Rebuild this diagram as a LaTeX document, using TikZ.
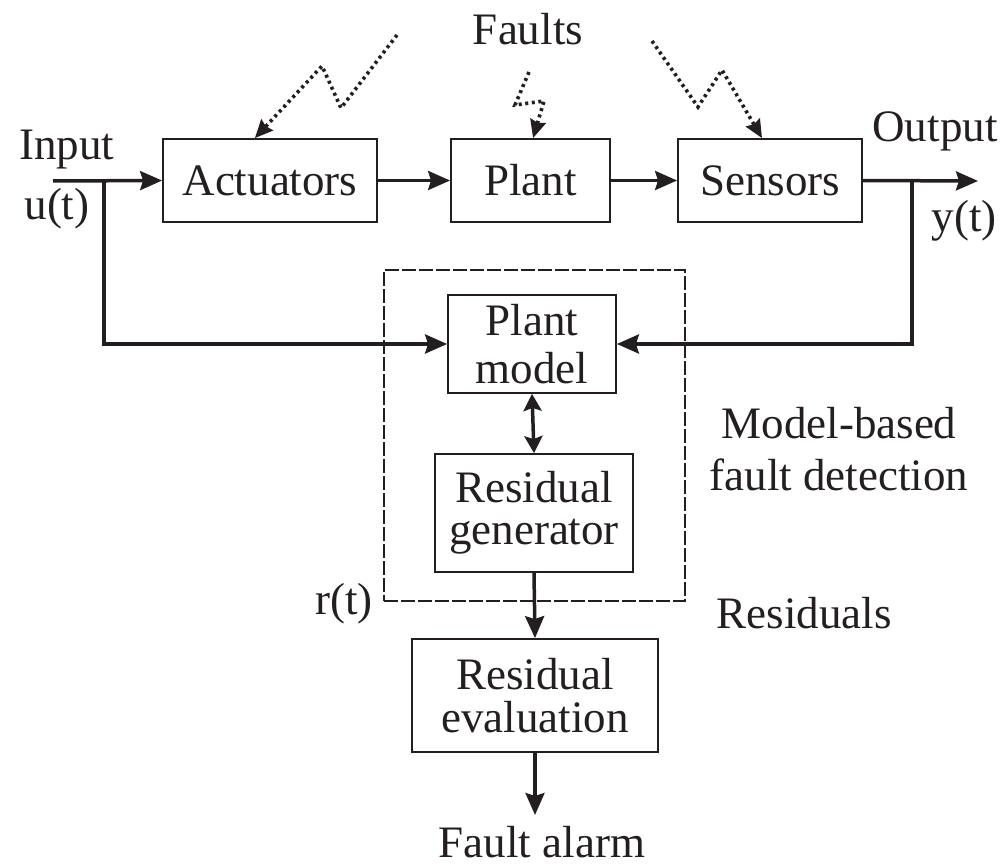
\documentclass[tikz,border=0pt]{standalone}
\usepackage{fontspec}
\setmainfont{Liberation Serif}
\usetikzlibrary{arrows.meta,calc}
\definecolor{ink}{RGB}{35,31,32}
\begin{document}
\begin{tikzpicture}[x=1pt,y=-1pt,
  every node/.style={font=\fontsize{45}{48}\selectfont, text=ink, inner sep=0pt},
  blk/.style={draw=ink, line width=1.8pt, inner sep=0pt, align=center},
  arr/.style={draw=ink, line width=3.5pt, -{Stealth[length=22pt,width=19pt,inset=3pt]}},
  dbl/.style={draw=ink, line width=3.5pt, {Stealth[length=17pt,width=18pt,inset=3pt]}-{Stealth[length=17pt,width=18pt,inset=3pt]}},
  fault/.style={draw=ink, line width=3.6pt, dash pattern=on 3pt off 3.6pt, -{Stealth[length=18pt,width=16pt,inset=2pt]}},
  dashbox/.style={draw=ink, line width=1.6pt, dash pattern=on 14pt off 3pt}]
\useasboundingbox (0,0) rectangle (1005,867);

% blocks
\node[blk, minimum width=214pt, minimum height=83pt] (act) at (270,180.5) {Actuators};
\node[blk, minimum width=159pt, minimum height=83pt] (plant) at (530.5,180.5) {Plant};
\node[blk, minimum width=184pt, minimum height=83pt] (sens) at (770,180.5) {Sensors};
\node[dashbox, minimum width=301pt, minimum height=331pt] (fdbox) at (534.5,435.5) {};
\node[blk, minimum width=168pt, minimum height=98pt, font=\fontsize{45}{48}\selectfont] (pm) at (532,344) {Plant\\model};
\node[blk, minimum width=198pt, minimum height=118pt, font=\fontsize{45}{42}\selectfont] (rg) at (534,513) {Residual\\generator};
\node[blk, minimum width=246pt, minimum height=113pt, font=\fontsize{45}{43}\selectfont] (re) at (535,695.5) {Residual\\evaluation};

% labels
\node[anchor=base] (faults) at (528,45) {Faults};
\node[anchor=base] (inlbl) at (67,159) {Input};
\node[anchor=base] (ulbl) at (57,219) {u(t)};
\node[anchor=base] (outlbl) at (935,141) {Output};
\node[anchor=base] (ylbl) at (964,231) {y(t)};
\node[anchor=base] (rlbl) at (344,614) {r(t)};
\node[anchor=base] (reslbl) at (804,628) {Residuals};
\node[align=center, font=\fontsize{45}{52}\selectfont] (mbfd) at (839,449) {Model-based\\fault detection};
\node[anchor=base] (alarm) at (542,857) {Fault alarm};

% coordinates
\coordinate (uin) at (53,181);
\coordinate (ubr) at (104,181);
\coordinate (yout) at (978,181);
\coordinate (ybr) at (912,181);
\coordinate (alarmtip) at (535,815);
\coordinate (f1s) at (397,35);
\coordinate (f1a) at (341,108);
\coordinate (f1b) at (322,66);
\coordinate (f2s) at (529,72);
\coordinate (f2a) at (515,105);
\coordinate (f2b) at (544,101);
\coordinate (f3s) at (652,41);
\coordinate (f3a) at (698,107);
\coordinate (f3b) at (722,70);

% main path
\draw[arr] (uin) -- (act.west);
\draw[arr] (act.east) -- (plant.west);
\draw[arr] (plant.east) -- (sens.west);
\draw[arr] (sens.east) -- (yout);
\draw[arr] (ubr) |- (pm.west);
\draw[arr] (ybr) |- (pm.east);
\draw[dbl] (pm.south) -- (rg.north);
\draw[arr] (rg.south) -- (re.north);
\draw[arr] (re.south) -- (alarmtip);

% faults
\draw[fault] (f1s) -- (f1a) -- (f1b) -- ($(act.north west)!0.43!(act.north east)$);
\draw[fault] (f2s) -- (f2a) -- (f2b) -- ($(plant.north west)!0.516!(plant.north east)$);
\draw[fault] (f3s) -- (f3a) -- (f3b) -- ($(sens.north west)!0.457!(sens.north east)$);
\end{tikzpicture}
\end{document}
